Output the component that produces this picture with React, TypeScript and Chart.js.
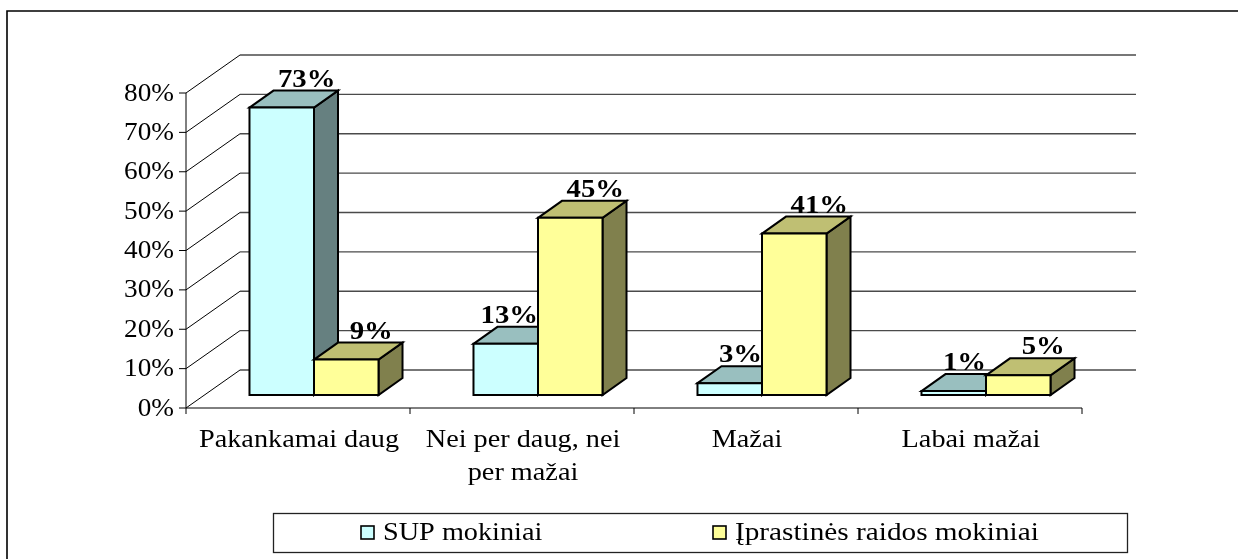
import React, { useEffect, useRef } from "react";
import { Chart, registerables } from "chart.js";

Chart.register(...registerables);

const categories: (string | string[])[] = [
  "Pakankamai daug",
  ["Nei per daug, nei", "per mažai"],
  "Mažai",
  "Labai mažai",
];
const seriesNames = ["SUP mokiniai", "Įprastinės raidos mokiniai"];
const supValues = [73, 13, 3, 1];
const typicalValues = [9, 45, 41, 5];
const yTickValues = [0, 10, 20, 30, 40, 50, 60, 70, 80];
const yTickLabels = ["0%", "10%", "20%", "30%", "40%", "50%", "60%", "70%", "80%"];

const FRONT = ["#CCFFFF", "#FFFF99"];
const TOP = ["#99BFBF", "#BFBF73"];
const SIDE = ["#668080", "#80804D"];

const WALL_DX = 54, WALL_DY = 38;   // back wall offset
const BAR_FX = 16, BAR_FY = 13;     // bar front plane offset
const BAR_DX = 24, BAR_DY = 17;     // bar depth
const FONT = "'Liberation Serif', 'Times New Roman', serif";
const SX = 1.13; // horizontal stretch of text, as in the reference

function poly(ctx: CanvasRenderingContext2D, pts: number[][], fill: string) {
  ctx.beginPath();
  ctx.moveTo(pts[0][0], pts[0][1]);
  for (let i = 1; i < pts.length; i++) ctx.lineTo(pts[i][0], pts[i][1]);
  ctx.closePath();
  ctx.fillStyle = fill;
  ctx.fill();
  ctx.stroke();
}

function text(ctx: CanvasRenderingContext2D, s: string, x: number, y: number, align: CanvasTextAlign, sx = SX) {
  ctx.save();
  ctx.translate(x, y);
  ctx.scale(sx, 1);
  ctx.textAlign = align;
  ctx.fillText(s, 0, 0);
  ctx.restore();
}

const threeD = {
  id: "threeD",
  beforeDatasetsDraw(chart: any) {
    const ctx: CanvasRenderingContext2D = chart.ctx;
    const { left, right } = chart.chartArea;
    const xs = chart.scales.x;
    const ys = chart.scales.y;
    const y0 = ys.getPixelForValue(0);
    ctx.save();

    // outer frame
    ctx.strokeStyle = "#000";
    ctx.lineWidth = 1.6;
    ctx.beginPath();
    ctx.moveTo(7, 600);
    ctx.lineTo(7, 11);
    ctx.lineTo(1300, 11);
    ctx.stroke();

    // back wall gridlines
    ctx.strokeStyle = "#4a4a4a";
    ctx.lineWidth = 1.3;
    yTickValues.forEach((v) => {
      const y = ys.getPixelForValue(v);
      ctx.beginPath();
      ctx.moveTo(left + WALL_DX, y - WALL_DY);
      ctx.lineTo(right + WALL_DX, y - WALL_DY);
      ctx.stroke();
    });
    // side wall diagonals
    ctx.strokeStyle = "#000";
    ctx.lineWidth = 1;
    yTickValues.forEach((v) => {
      const y = ys.getPixelForValue(v);
      ctx.beginPath();
      ctx.moveTo(left, y);
      ctx.lineTo(left + WALL_DX, y - WALL_DY);
      ctx.stroke();
      ctx.beginPath();
      ctx.moveTo(left - 7, y);
      ctx.lineTo(left, y);
      ctx.stroke();
    });
    // front y axis
    ctx.beginPath();
    ctx.moveTo(left, ys.getPixelForValue(yTickValues[yTickValues.length - 1]));
    ctx.lineTo(left, y0);
    ctx.stroke();
    // front x axis + ticks
    ctx.beginPath();
    ctx.moveTo(left, y0);
    ctx.lineTo(right, y0);
    ctx.stroke();
    const n = categories.length;
    for (let i = 0; i <= n; i++) {
      const x = left + ((right - left) * i) / n;
      ctx.beginPath();
      ctx.moveTo(x, y0);
      ctx.lineTo(x, y0 + 6);
      ctx.stroke();
    }

    // bars
    ctx.strokeStyle = "#000";
    ctx.lineWidth = 2;
    ctx.lineJoin = "miter";
    const metas = chart.data.datasets.map((_: any, d: number) => chart.getDatasetMeta(d));
    const boxes: any[] = [];
    for (let i = 0; i < n; i++) {
      for (let d = 0; d < metas.length; d++) {
        const el = metas[d].data[i];
        const x0 = el.x - el.width / 2 + BAR_FX;
        const x1 = el.x + el.width / 2 + BAR_FX;
        const yt = el.y - BAR_FY;
        const yb = el.base - BAR_FY;
        boxes.push({ d, i, x0, x1, yt, yb, v: chart.data.datasets[d].data[i] });
        poly(ctx, [[x1, yt], [x1 + BAR_DX, yt - BAR_DY], [x1 + BAR_DX, yb - BAR_DY], [x1, yb]], SIDE[d]);
        poly(ctx, [[x0, yt], [x0 + BAR_DX, yt - BAR_DY], [x1 + BAR_DX, yt - BAR_DY], [x1, yt]], TOP[d]);
        poly(ctx, [[x0, yt], [x1, yt], [x1, yb], [x0, yb]], FRONT[d]);
      }
    }

    // data labels
    ctx.fillStyle = "#000";
    ctx.font = `bold 25px ${FONT}`;
    ctx.textBaseline = "alphabetic";
    boxes.forEach((b) => {
      const txt = `${b.v}%`;
      const yb = b.yt - BAR_DY - 4;
      const other = boxes.find((o) => o.i === b.i && o.d !== b.d);
      if (b.d === 0 && other && other.v > b.v) {
        text(ctx, txt, b.x1, yb, "right", 1.15);
      } else {
        text(ctx, txt, (b.x0 + b.x1) / 2 + BAR_DX + 1, yb, "center", 1.15);
      }
    });

    // y tick labels
    ctx.font = `25px ${FONT}`;
    ctx.textBaseline = "middle";
    yTickValues.forEach((v, k) => {
      text(ctx, yTickLabels[k], left - 12, ys.getPixelForValue(v) + 1, "right", 1.09);
    });

    // category labels
    ctx.textBaseline = "alphabetic";
    categories.forEach((c, i) => {
      const lines = Array.isArray(c) ? c : [c];
      const x = xs.getPixelForValue(i) + 1;
      lines.forEach((ln, k) => text(ctx, ln, x, y0 + 39 + k * 33, "center"));
    });

    // legend
    ctx.strokeStyle = "#222";
    ctx.lineWidth = 1.3;
    ctx.strokeRect(273.5, 513.5, 854, 39);
    const legendX = [361, 713];
    chart.data.datasets.forEach((ds: any, d: number) => {
      const x = legendX[d];
      ctx.fillStyle = FRONT[d];
      ctx.fillRect(x, 526, 13, 13);
      ctx.strokeStyle = "#000";
      ctx.lineWidth = 1.6;
      ctx.strokeRect(x, 526, 13, 13);
      ctx.fillStyle = "#000";
      text(ctx, ds.label, x + 22, 540, "left", d === 0 ? 1.13 : 1.17);
    });

    ctx.restore();
    return false;
  },
};

export default function App() {
  const ref = useRef<HTMLCanvasElement>(null);
  useEffect(() => {
    if (!ref.current) return;
    const chart = new Chart(ref.current, {
      type: "bar",
      data: {
        labels: categories as any,
        datasets: [
          { label: seriesNames[0], data: supValues, backgroundColor: FRONT[0] },
          { label: seriesNames[1], data: typicalValues, backgroundColor: FRONT[1] },
        ],
      },
      options: {
        responsive: false,
        animation: false,
        devicePixelRatio: 1,
        layout: { padding: { left: 186, right: 156, top: 93, bottom: 151 } },
        plugins: { legend: { display: false }, tooltip: { enabled: false } },
        datasets: { bar: { categoryPercentage: 0.576, barPercentage: 1 } },
        scales: {
          x: { display: false, offset: true },
          y: { display: false, min: 0, max: 80, ticks: { stepSize: 10 } },
        },
      },
      plugins: [threeD],
    });
    return () => chart.destroy();
  }, []);
  return (
    <div style={{ position: "absolute", left: 0, top: 0, width: 1238, height: 559, background: "#fff" }}>
      <canvas ref={ref} width={1238} height={559} style={{ display: "block" }} />
    </div>
  );
}
